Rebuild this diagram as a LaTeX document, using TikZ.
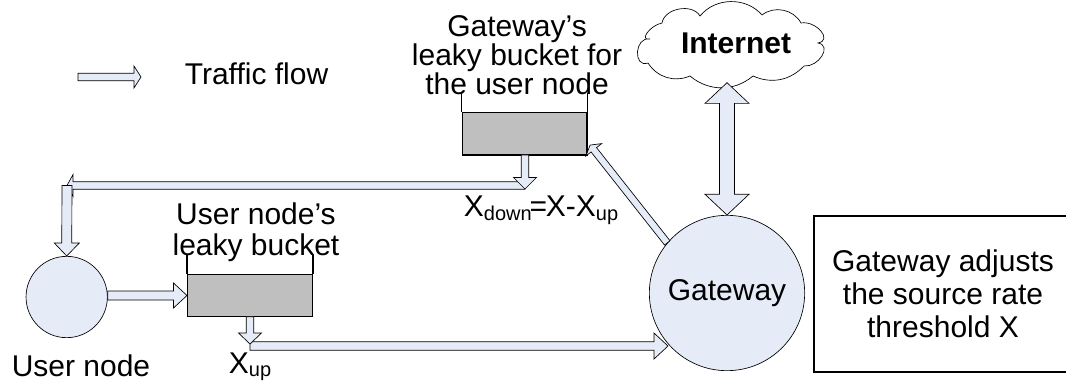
\documentclass[tikz,border=0pt]{standalone}
\usepackage{fontspec}
\setmainfont{Liberation Sans}
\usepackage{xcolor}
\usetikzlibrary{calc,positioning}

\definecolor{flowblue}{HTML}{E6ECF7}
\definecolor{watergray}{HTML}{BFBFBF}
\newcommand{\lowtext}[1]{\raisebox{-0.12em}{\fontsize{15}{15}\selectfont #1}}

\tikzset{
  label text/.style={font=\fontsize{22.5}{#1}\selectfont, align=center, inner sep=0pt},
  label text/.default=24,
  station/.style={circle, draw=black, fill=flowblue, line width=0.5pt, inner sep=0pt},
  bucket/.style={rectangle, draw=black, fill=watergray, line width=1pt, inner sep=0pt,
    minimum width=93.5pt, minimum height=31.8pt},
  wall/.style={line width=1pt},
  % shaft half width, head half width, head length (all in reference pixels)
  flow/.style n args={3}{draw=black, fill=flowblue, line width=0.5pt, to path={
    let \p1=(\tikztostart), \p2=(\tikztotarget),
        \n1={atan2(\y2-\y1,\x2-\x1)}, \n2={veclen(\x2-\x1,\y2-\y1)} in
    {[shift={(\p1)}, rotate=\n1]
      (0pt,0.75pt*#1) -- ({\n2-0.75pt*#3},0.75pt*#1) -- ({\n2-0.75pt*#3},0.75pt*#2)
      -- (\n2,0pt) -- ({\n2-0.75pt*#3},-0.75pt*#2) -- ({\n2-0.75pt*#3},-0.75pt*#1)
      -- (0pt,-0.75pt*#1) -- cycle}}},
  flowboth/.style n args={3}{draw=black, fill=flowblue, line width=0.5pt, to path={
    let \p1=(\tikztostart), \p2=(\tikztotarget),
        \n1={atan2(\y2-\y1,\x2-\x1)}, \n2={veclen(\x2-\x1,\y2-\y1)} in
    {[shift={(\p1)}, rotate=\n1]
      (0pt,0pt) -- (0.75pt*#3,0.75pt*#2) -- (0.75pt*#3,0.75pt*#1)
      -- ({\n2-0.75pt*#3},0.75pt*#1) -- ({\n2-0.75pt*#3},0.75pt*#2)
      -- (\n2,0pt) -- ({\n2-0.75pt*#3},-0.75pt*#2) -- ({\n2-0.75pt*#3},-0.75pt*#1)
      -- (0.75pt*#3,-0.75pt*#1) -- (0.75pt*#3,-0.75pt*#2) -- cycle}}}
}

\begin{document}
\begin{tikzpicture}[x=0.75pt, y=-0.75pt]
      \useasboundingbox (0,0) rectangle (1066,381);

      % legend
      \coordinate (legendA) at (78,77);
      \coordinate (legendB) at (141,77);
      \node[label text] (legend) at (256.5,74) {Traffic flow};

      % internet cloud
      \draw[line width=0.5pt, fill=white] (650,39) to[out=190,in=190,looseness=1.5] (662,23)
        to[bend left=70] (700,16) to[bend left=50] (762,15) to[bend left=50] (801,23)
        to[out=10,in=10,looseness=1.5] (818,43) to[out=-10,in=-5,looseness=1.4] (804,66)
        to[bend left=35] (753,76) to[bend left=40] (690,76) to[bend left=40] (648,63)
        to[out=200,in=170,looseness=1.7] cycle;
      \node[label text, font=\fontsize{22.5}{24}\selectfont\bfseries] (internet) at (736,43) {Internet};

      % stations and buckets
      \node[station, minimum size=61pt] (user) at (66.7,297) {};
      \node[station, minimum size=116.5pt, label text] (gateway) at (727,293) {Gateway};
      \node[bucket] (userbucket) at (250,295.5) {};
      \node[bucket] (gatebucket) at (524.5,133.7) {};

      \draw[wall] (userbucket.north west) -- ++(0,-19);
      \draw[wall] (userbucket.north east) -- ++(0,-19);
      \draw[wall] (gatebucket.north west) -- ++(0,-19);
      \draw[wall] (gatebucket.north east) -- ++(0,-19);

      % labels
      \node[label text=23.5] (usertitle) at (256,232) {User node's\\leaky bucket};
      \node[label text=21.7] (gatetitle) at (517,55) {Gateway's\\leaky bucket for\\the user node};
      \node[label text] (usercap) at (81,366) {User node};
      \node[label text, anchor=base] (xup) at (250,373) {X\lowtext{up}};
      \node[label text, anchor=base] (xdown) at (541,216.7) {X\lowtext{down}\kern-1.5pt=\kern-1pt X-X\lowtext{up}};
      \node[draw=black, line width=1.5pt, minimum width=193.3pt, minimum height=117pt,
            label text=24.5] (adjust) at (943,293.7) {Gateway adjusts\\the source rate\\threshold X};

      % free ends of the block arrows
      \coordinate (downA) at (525,155);
      \coordinate (downB) at (525,189);
      \coordinate (longA) at (525,185.5);
      \coordinate (longB) at (67,185.5);
      \coordinate (dropA) at (67,185.5);
      \coordinate (outA) at (user.east |- userbucket.west);
      \coordinate (upA) at (250,316.7);
      \coordinate (upB) at (250,344);
      \coordinate (lowA) at (250,346);
      \coordinate (lowB) at (668,346);
      \coordinate (diagB) at (590,145);
      \coordinate (inetfoot) at (727,82.7);

      % block arrows
      \path (legendA) edge[flow={3.8}{11}{7}] (legendB);
      \path (longA) edge[flow={3.8}{11}{6}] (longB);
      \path (downA) edge[flow={3.8}{11.5}{11.5}] (downB);
      \path (dropA) edge[flow={5}{12.5}{13}] (user.north);
      \path (outA) edge[flow={4.5}{12.5}{13.5}] (userbucket.west);
      \path (lowA) edge[flow={4.2}{13}{14}] (lowB);
      \path (upA) edge[flow={3.8}{11.5}{11}] (upB);
      \path (gateway.140) edge[flow={3.5}{10}{6}] (diagB);
      \path (gateway.north) edge[flowboth={7.5}{22}{20.7}] (inetfoot);

\end{tikzpicture}
\end{document}
